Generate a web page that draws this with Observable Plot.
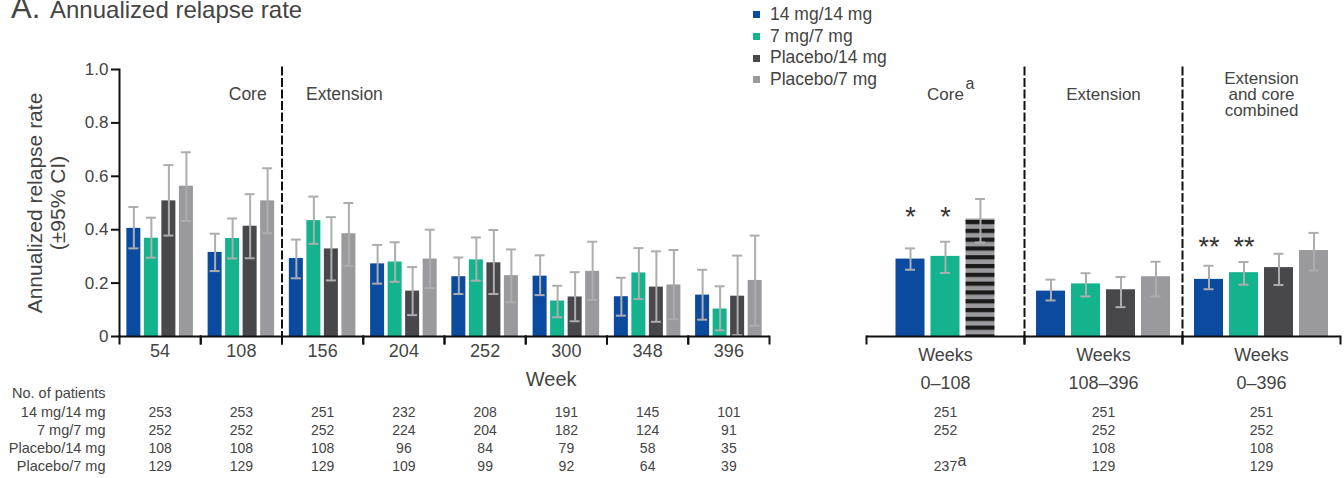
<!DOCTYPE html>
<html>
<head>
<meta charset="utf-8">
<script src="https://cdn.jsdelivr.net/npm/d3@7"></script>
<script src="https://cdn.jsdelivr.net/npm/@observablehq/plot@0.6"></script>
<style>
  html, body { margin: 0; padding: 0; background: #fff; }
  body { font-family: "Liberation Sans", Arial, Helvetica, sans-serif; color: #444; }
  #wrap { position: relative; width: 1344px; height: 478px; overflow: hidden; }
  #wrap > svg, #wrap > div { position: absolute; }
</style>
</head>
<body>
<div id="wrap"></div>
<script>
// ---------------- DATA ----------------
const series = ["14 mg/14 mg", "7 mg/7 mg", "Placebo/14 mg", "Placebo/7 mg"];
const colors = ["#0b4b9f", "#12b38d", "#48484c", "#9a9a9e"];

const weeks = ["54", "108", "156", "204", "252", "300", "348", "396"];

const rate_14_14 = [0.405, 0.315, 0.292, 0.272, 0.224, 0.226, 0.149, 0.155];
const lo_14_14   = [0.330, 0.245, 0.218, 0.198, 0.159, 0.155, 0.078, 0.063];
const hi_14_14   = [0.485, 0.385, 0.363, 0.343, 0.296, 0.304, 0.220, 0.250];

const rate_7_7 = [0.368, 0.367, 0.434, 0.279, 0.287, 0.133, 0.238, 0.103];
const lo_7_7   = [0.295, 0.292, 0.347, 0.205, 0.209, 0.072, 0.140, 0.023];
const hi_7_7   = [0.445, 0.442, 0.524, 0.353, 0.371, 0.190, 0.331, 0.188];

const rate_p_14 = [0.508, 0.413, 0.328, 0.170, 0.276, 0.148, 0.185, 0.151];
const lo_p_14   = [0.378, 0.293, 0.210, 0.080, 0.159, 0.057, 0.055, 0.005];
const hi_p_14   = [0.642, 0.533, 0.447, 0.260, 0.399, 0.241, 0.319, 0.303];

const rate_p_7 = [0.563, 0.508, 0.385, 0.290, 0.228, 0.244, 0.193, 0.210];
const lo_p_7   = [0.433, 0.387, 0.265, 0.181, 0.128, 0.137, 0.065, 0.040];
const hi_p_7   = [0.690, 0.630, 0.500, 0.400, 0.326, 0.355, 0.324, 0.378];

const n_14_14 = [253, 253, 251, 232, 208, 191, 145, 101];
const n_7_7   = [252, 252, 252, 224, 204, 182, 124, 91];
const n_p_14  = [108, 108, 108, 96, 84, 79, 58, 35];
const n_p_7   = [129, 129, 129, 109, 99, 92, 64, 39];

const periods = ["core", "ext", "comb"];
const periodHeaders = ["Core", "Extension", "Extension\nand core\ncombined"];
const periodRanges = ["0–108", "108–396", "0–396"];

const pRate_14_14 = [0.290, 0.170, 0.214];
const pLo_14_14   = [0.250, 0.135, 0.177];
const pHi_14_14   = [0.330, 0.213, 0.265];
const pRate_7_7 = [0.300, 0.197, 0.239];
const pLo_7_7   = [0.238, 0.150, 0.194];
const pHi_7_7   = [0.355, 0.237, 0.279];
const pRate_p_14 = [null, 0.175, 0.258];
const pLo_p_14   = [null, 0.110, 0.193];
const pHi_p_14   = [null, 0.223, 0.310];
const pRate_p_7 = [null, 0.224, 0.322];
const pLo_p_7   = [null, 0.150, 0.247];
const pHi_p_7   = [null, 0.280, 0.388];
// pooled placebo, core period (striped bar)
const pooledRate = [0.440];
const pooledLo   = [0.352];
const pooledHi   = [0.515];

const pn_14_14 = [251, 251, 251];
const pn_7_7   = [252, 252, 252];
const pn_p_14  = ["", 108, 108];
const pn_p_7   = ["237", 129, 129];

const sigCore = ["*", "*"];
const sigComb = ["**", "**"];

const yTicks = [0, 0.2, 0.4, 0.6, 0.8, 1.0];
const rowLabels = ["No. of patients", ...series];
const phaseLeft = ["Core", "Extension"];

// ---------------- BUILD ----------------
const FONT = '"Liberation Sans", Arial, Helvetica, sans-serif';
const TXT = "#444", AX = "#111", ERR = "#adadaf";
const wrap = d3.select("#wrap");

// stripe pattern for pooled placebo
const defsSvg = wrap.append("svg").attr("width", 0).attr("height", 0);
const pat = defsSvg.append("defs").append("pattern")
  .attr("id", "stripes").attr("patternUnits", "userSpaceOnUse")
  .attr("width", 10).attr("height", 8.8);
pat.append("rect").attr("width", 10).attr("height", 8.8).attr("fill", "#9a9a9e");
pat.append("rect").attr("width", 10).attr("height", 4.2).attr("fill", "#1a1a1a");

const rates = [rate_14_14, rate_7_7, rate_p_14, rate_p_7];
const los = [lo_14_14, lo_7_7, lo_p_14, lo_p_7];
const his = [hi_14_14, hi_7_7, hi_p_14, hi_p_7];
const weekRows = weeks.flatMap((w, i) => series.map((s, j) => ({
  week: w, series: s, rate: rates[j][i], lo: los[j][i], hi: his[j][i]
})));

const pRates = [pRate_14_14, pRate_7_7, pRate_p_14, pRate_p_7];
const pLos = [pLo_14_14, pLo_7_7, pLo_p_14, pLo_p_7];
const pHis = [pHi_14_14, pHi_7_7, pHi_p_14, pHi_p_7];
const periodRows = periods.flatMap((p, i) => series.map((s, j) => ({
  period: p, series: s, rate: pRates[j][i], lo: pLos[j][i], hi: pHis[j][i]
}))).filter(d => d.rate != null);
const coreRows = periodRows.filter(d => d.period === "core");
const otherRows = periodRows.filter(d => d.period !== "core");
const pooledRows = pooledRate.map((r, i) => ({period: "core", series: series[2], rate: r, lo: pooledLo[i], hi: pooledHi[i]}));
const combSigRows = periodRows.filter(d => d.period === "comb").slice(0, sigComb.length);

function errMarks(data, fxKey, inset, extra = {}) {
  return [
    Plot.ruleX(data, {fx: fxKey, x: "series", y1: "lo", y2: "hi", stroke: ERR, strokeWidth: 2, ...extra}),
    Plot.tickY(data, {fx: fxKey, x: "series", y: "hi", stroke: ERR, strokeWidth: 2, inset, ...extra}),
    Plot.tickY(data, {fx: fxKey, x: "series", y: "lo", stroke: ERR, strokeWidth: 2, inset, ...extra})
  ];
}

const common = {
  height: 478, marginTop: 69, marginBottom: 142,
  style: {fontFamily: FONT, color: TXT, background: "transparent", overflow: "visible"},
  y: {domain: [0, 1], axis: null},
  color: {domain: series, range: colors}
};

const patientArrs = [n_14_14, n_7_7, n_p_14, n_p_7];
const rowDy = [57, 76, 94, 112, 130];

// ---------- left panel ----------
const left = Plot.plot({
  ...common,
  width: 830, marginLeft: 119, marginRight: 61,
  fx: {domain: weeks, padding: 0, round: false, label: null},
  x: {domain: series, paddingInner: 0.2, paddingOuter: 0.42, round: false, axis: null},
  marks: [
    Plot.barY(weekRows, {fx: "week", x: "series", y: "rate", fill: "series"}),
    ...errMarks(weekRows, "week", 2),
    Plot.ruleY([0], {stroke: AX, strokeWidth: 2}),
    Plot.frame({anchor: "left", insetTop: 267, insetBottom: -7, stroke: AX, strokeWidth: 2}),
    Plot.frame({anchor: "right", insetTop: 267, insetBottom: -7, stroke: AX, strokeWidth: 2}),
    Plot.frame({anchor: "left", fx: () => weeks[0], stroke: AX, strokeWidth: 2}),
    Plot.frame({anchor: "left", fx: () => weeks[2], stroke: AX, strokeWidth: 2, strokeDasharray: "7,4.5", insetTop: -2}),
    Plot.axisY({ticks: yTicks, tickFormat: d => d === 0 ? "0" : d.toFixed(1), tickSize: 8, tickPadding: 3,
      fontSize: 17, stroke: AX, strokeWidth: 2, fill: TXT}),
    Plot.axisFx({anchor: "bottom", tickSize: 0, tickPadding: 8, fontSize: 18, label: null, fill: TXT}),
    Plot.text([weeks[1]], {fx: d => d, text: () => phaseLeft[0], frameAnchor: "top-left", dx: 28, dy: 25,
      lineAnchor: "middle", fontSize: 17.5, fill: TXT}),
    Plot.text([weeks[2]], {fx: d => d, text: () => phaseLeft[1], frameAnchor: "top-left", dx: 24, dy: 25,
      textAnchor: "start", lineAnchor: "middle", fontSize: 17.5, fill: TXT}),
    Plot.text([weeks[5]], {fx: d => d, text: () => "Week", frameAnchor: "bottom-left", dy: 43,
      lineAnchor: "middle", fontSize: 20, fill: TXT}),
    ...rowLabels.map((lab, j) => Plot.text([weeks[0]], {fx: d => d, text: () => lab, frameAnchor: "bottom-left",
      dx: -14, dy: rowDy[j], textAnchor: "end", lineAnchor: "middle", fontSize: 14.5, fill: TXT})),
    ...patientArrs.map((arr, j) => Plot.text(weeks, {fx: d => d, text: (d, i) => String(arr[i]), frameAnchor: "bottom",
      dy: rowDy[j + 1], lineAnchor: "middle", fontSize: 14, fill: TXT}))
  ]
});
left.style.left = "0px";
left.style.top = "0px";
wrap.node().appendChild(left);

// ---------- right panel ----------
const CORE_DX = 17.5;
const pPatientArrs = [pn_14_14, pn_7_7, pn_p_14, pn_p_7];
const right = Plot.plot({
  ...common,
  width: 514, marginLeft: 36, marginRight: 4,
  fx: {domain: periods, padding: 0, round: false, axis: null},
  x: {domain: series, paddingInner: 0.171, paddingOuter: 0.343, round: false, axis: null},
  marks: [
    Plot.barY(otherRows, {fx: "period", x: "series", y: "rate", fill: "series"}),
    Plot.barY(coreRows, {fx: "period", x: "series", y: "rate", fill: "series", dx: CORE_DX}),
    Plot.barY(pooledRows, {fx: "period", x: "series", y: "rate", fill: "url(#stripes)", dx: CORE_DX}),
    ...errMarks(otherRows, "period", 9.5),
    ...errMarks(coreRows, "period", 9.5, {dx: CORE_DX}),
    ...errMarks(pooledRows, "period", 9.5, {dx: CORE_DX}),
    Plot.text(coreRows.slice(0, sigCore.length), {fx: "period", x: "series", y: () => 0.448, text: (d, i) => sigCore[i],
      dx: CORE_DX, fontSize: 27, fill: "#333", lineAnchor: "middle"}),
    Plot.text(combSigRows, {fx: "period", x: "series", y: () => 0.333, text: (d, i) => sigComb[i],
      fontSize: 27, fill: "#333", lineAnchor: "middle"}),
    Plot.ruleY([0], {stroke: AX, strokeWidth: 2}),
    Plot.frame({anchor: "left", insetTop: 267, insetBottom: -7, stroke: AX, strokeWidth: 2}),
    Plot.frame({anchor: "right", insetTop: 267, insetBottom: -7, stroke: AX, strokeWidth: 2}),
    Plot.frame({anchor: "left", fx: () => periods[1], stroke: AX, strokeWidth: 2, strokeDasharray: "7,4.5", insetTop: -2}),
    Plot.frame({anchor: "left", fx: () => periods[2], stroke: AX, strokeWidth: 2, strokeDasharray: "7,4.5", insetTop: -2}),
    Plot.text(periods, {fx: d => d, text: (d, i) => periodHeaders[i], frameAnchor: "top", dy: 25,
      lineAnchor: "middle", lineHeight: 0.95, fontSize: 17, fill: TXT}),
    Plot.text([periods[0]], {fx: d => d, text: () => "a", frameAnchor: "top", dx: 20, dy: 14,
      textAnchor: "start", lineAnchor: "middle", fontSize: 16, fill: TXT}),
    Plot.text(periods, {fx: d => d, text: () => "Weeks", frameAnchor: "bottom", dy: 19,
      lineAnchor: "middle", fontSize: 18, fill: TXT}),
    Plot.text(periods, {fx: d => d, text: (d, i) => periodRanges[i], frameAnchor: "bottom", dy: 47,
      lineAnchor: "middle", fontSize: 18, fill: TXT}),
    ...pPatientArrs.map((arr, j) => Plot.text(periods, {fx: d => d, text: (d, i) => String(arr[i]), frameAnchor: "bottom",
      dy: rowDy[j + 1], lineAnchor: "middle", fontSize: 14, fill: TXT})),
    Plot.text([periods[0]], {fx: d => d, text: () => "a", frameAnchor: "bottom", dx: 12, dy: rowDy[4] - 6,
      textAnchor: "start", lineAnchor: "middle", fontSize: 16, fill: TXT})
  ]
});
right.style.left = "830px";
right.style.top = "0px";
wrap.node().appendChild(right);

// ---------- overlay: title + y label ----------
const ov = wrap.append("svg").attr("width", 1344).attr("height", 478)
  .style("left", "0px").style("top", "0px").style("pointer-events", "none")
  .attr("font-family", FONT).attr("fill", TXT);
ov.append("text").attr("x", 11).attr("y", 18).attr("font-size", 31).text("A.");
ov.append("text").attr("x", 50).attr("y", 18).attr("font-size", 24).text("Annualized relapse rate");
ov.append("text").attr("transform", "translate(42,203) rotate(-90)").attr("text-anchor", "middle")
  .attr("font-size", 21).text("Annualized relapse rate");
ov.append("text").attr("transform", "translate(65,203) rotate(-90)").attr("text-anchor", "middle")
  .attr("font-size", 21).text("(±95% CI)");

// ---------- legend ----------
const leg = wrap.append("div").style("left", "753px").style("top", "4px")
  .style("font-size", "17.5px").style("color", TXT).style("font-family", FONT);
series.forEach((s, i) => {
  const row = leg.append("div").style("height", "21.7px").style("line-height", "21.7px")
    .style("display", "flex").style("align-items", "center").style("white-space", "nowrap");
  row.append("span").style("display", "inline-block").style("width", "7px").style("height", "7px")
    .style("background", colors[i]).style("margin-right", "10px");
  row.append("span").text(s);
});
</script>
</body>
</html>
